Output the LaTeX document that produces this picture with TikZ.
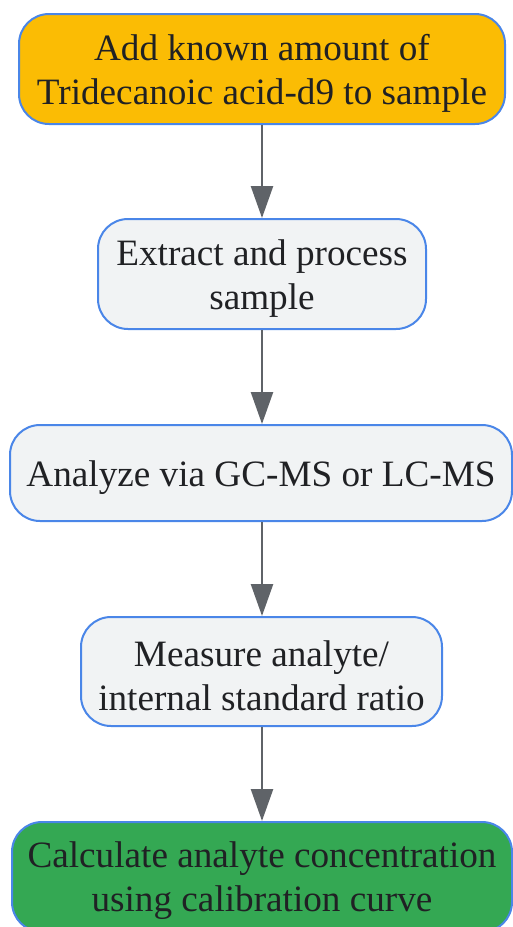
\documentclass[tikz,border=0pt]{standalone}
\usepackage{fontspec}
\setmainfont{Liberation Serif}
\usetikzlibrary{arrows.meta}
\definecolor{bordblue}{HTML}{4A86E8}
\definecolor{orangefill}{HTML}{FBBC04}
\definecolor{grayfill}{HTML}{F1F3F4}
\definecolor{greenfill}{HTML}{34A853}
\definecolor{txt}{HTML}{202124}
\definecolor{arr}{HTML}{5F6368}
\begin{document}
\begin{tikzpicture}[x=1pt,y=1pt,
  box/.style={draw=bordblue, line width=2pt, rounded corners=30pt, inner sep=0pt, minimum height=110pt},
  lbl/.style={align=center, text=txt, font=\fontsize{37.2}{44}\selectfont, inner sep=0pt},
  conn/.style={draw=arr, line width=2.5pt, -{Triangle[length=32pt,width=22pt]}}]
\useasboundingbox (0,0) rectangle (513,-927);
\node[box, fill=orangefill, minimum width=486pt] (n1) at (262,-69) {};
\node[lbl] (t1) at ([yshift=-4pt]n1.center) {Add known amount of\\Tridecanoic acid-d9 to sample};
\node[box, fill=grayfill, minimum width=328pt] (n2) at (262,-274) {};
\node[lbl] (t2) at ([yshift=-5pt]n2.center) {Extract and process\\sample};
\node[box, fill=grayfill, minimum width=502pt, minimum height=96pt] (n3) at (261,-473) {};
\node[lbl] (t3) at ([yshift=-5pt]n3.center) {Analyze via GC-MS or LC-MS};
\node[box, fill=grayfill, minimum width=361pt, minimum height=109pt] (n4) at (261.5,-671.5) {};
\node[lbl] (t4) at ([yshift=-4pt]n4.center) {Measure analyte/\\internal standard ratio};
\node[box, fill=greenfill, minimum width=500pt] (n5) at (262,-877) {};
\node[lbl] (t5) at ([yshift=-4pt]n5.center) {Calculate analyte concentration\\using calibration curve};
\draw[conn] (n1.south -| 262,0) -- (n2.north -| 262,0);
\draw[conn] (n2.south -| 262,0) -- (n3.north -| 262,0);
\draw[conn] (n3.south -| 262,0) -- (n4.north -| 262,0);
\draw[conn] (n4.south -| 262,0) -- (n5.north -| 262,0);
\end{tikzpicture}
\end{document}
